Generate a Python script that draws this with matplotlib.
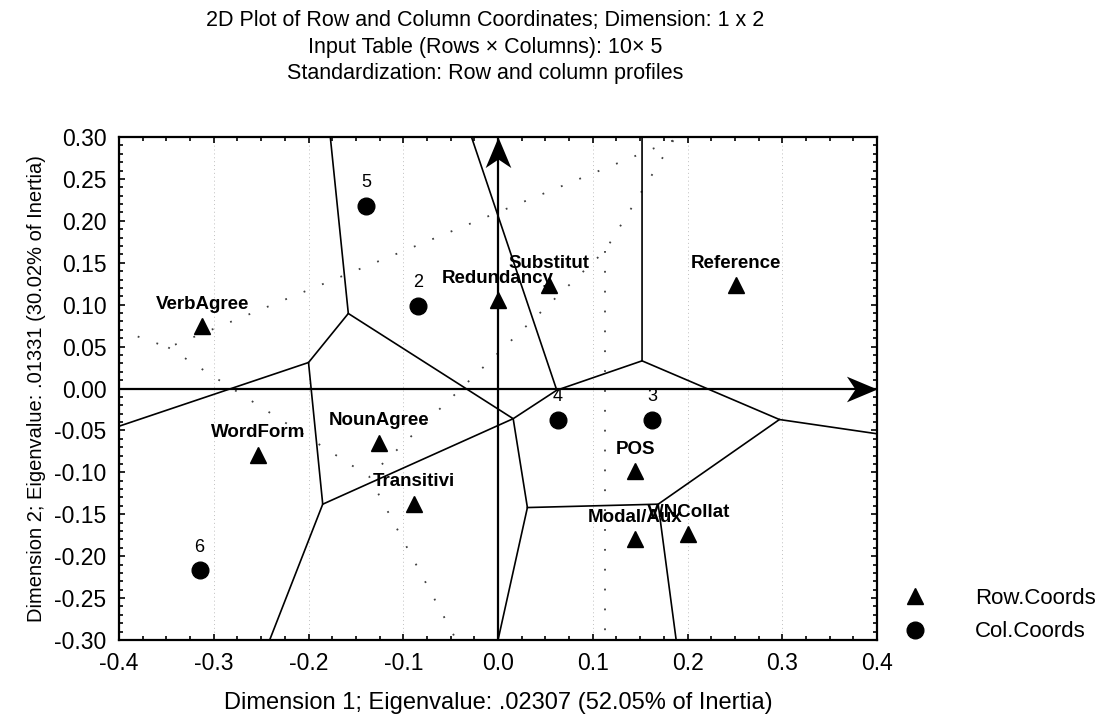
import numpy as np
import matplotlib
matplotlib.use('Agg')
import matplotlib.pyplot as plt
from matplotlib.ticker import MultipleLocator, FormatStrFormatter

plt.rcParams['font.family'] = ['Liberation Sans', 'DejaVu Sans']
plt.rcParams['axes.unicode_minus'] = False

# row coordinates (triangles)
row_labels = ['VerbAgree', 'WordForm', 'NounAgree', 'Transitivi', 'Redundancy',
              'Substitut', 'Reference', 'POS', 'Modal/Aux', 'V/NCollat']
row_x = [-0.312, -0.253, -0.126, -0.089, 0.000, 0.054, 0.251, 0.145, 0.145, 0.201]
row_y = [0.074, -0.079, -0.065, -0.138, 0.105, 0.123, 0.123, -0.099, -0.180, -0.174]

# column coordinates (circles)
col_labels = ['2', '3', '4', '5', '6']
col_x = [-0.084, 0.163, 0.063, -0.139, -0.315]
col_y = [0.099, -0.037, -0.037, 0.218, -0.217]

# cell boundaries around the row points (solid)
solid_x = [[-0.177, -0.158, -0.200, -0.400], [-0.200, -0.185, -0.241],
           [-0.185, 0.016, -0.158], [-0.028, 0.062, 0.016, 0.031, 0.000],
           [0.062, 0.152, 0.152], [0.152, 0.297, 0.400],
           [0.297, 0.169, 0.188], [0.169, 0.031]]
solid_y = [[0.30, 0.0895, 0.031, -0.045], [0.031, -0.138, -0.30],
           [-0.138, -0.036, 0.0895], [0.30, -0.002, -0.036, -0.142, -0.30],
           [-0.002, 0.033, 0.30], [0.033, -0.037, -0.054],
           [-0.037, -0.138, -0.30], [-0.138, -0.142]]

# cell boundaries around the column points (dotted)
dot_x = [[-0.400, -0.348, 0.185, 0.189], [-0.348, -0.136, -0.044],
         [0.185, 0.113, -0.136], [0.113, 0.113]]
dot_y = [[0.070, 0.049, 0.296, 0.30], [0.049, -0.105, -0.30],
         [0.296, 0.1645, -0.105], [0.1645, -0.30]]

fig = plt.figure(figsize=(11.05, 7.17), dpi=100)
ax = fig.add_axes([0.1077, 0.1074, 0.686, 0.7015])
ax.set_xlim(-0.4, 0.4)
ax.set_ylim(-0.3, 0.3)

# faint vertical grid
for gx in np.arange(-0.3, 0.31, 0.1):
    ax.axvline(gx, color='0.75', lw=0.7, ls=(0, (1, 3)), zorder=0)

for xs, ys in zip(dot_x, dot_y):
    ax.plot(xs, ys, color='0.25', lw=1.3, ls=(0, (1, 10)), zorder=1)
for xs, ys in zip(solid_x, solid_y):
    ax.plot(xs, ys, color='black', lw=1.2, zorder=2)

# axis lines with arrow heads
ax.plot([-0.4, 0.4], [0, 0], color='black', lw=1.6, zorder=2)
ax.plot([0, 0], [-0.3, 0.3], color='black', lw=1.6, zorder=2)
head_r = [(0, 0), (-1, 0.42), (-0.72, 0), (-1, -0.42), (0, 0)]
head_u = [(0, 0), (0.42, -1), (0, -0.72), (-0.42, -1), (0, 0)]
ax.plot([0.4], [0], marker=head_r, ms=44, color='black', mew=0, clip_on=False, zorder=3)
ax.plot([0], [0.3], marker=head_u, ms=44, color='black', mew=0, clip_on=False, zorder=3)

ax.plot(row_x, row_y, ls='none', marker='^', ms=11, color='black', label='Row.Coords', zorder=4)
ax.plot(col_x, col_y, ls='none', marker='o', ms=12, color='black', label='Col.Coords', zorder=4)

for lab, x, y in zip(row_labels, row_x, row_y):
    ax.annotate(lab, (x, y), xytext=(0, 16), textcoords='offset points',
                ha='center', va='center', fontsize=13.5, fontweight='bold', zorder=5)
for lab, x, y in zip(col_labels, col_x, col_y):
    ax.annotate(lab, (x, y), xytext=(0, 16.5), textcoords='offset points',
                ha='center', va='center', fontsize=13, zorder=5)

ax.xaxis.set_major_locator(MultipleLocator(0.1))
ax.xaxis.set_minor_locator(MultipleLocator(0.025))
ax.yaxis.set_major_locator(MultipleLocator(0.05))
ax.yaxis.set_minor_locator(MultipleLocator(0.01))
ax.xaxis.set_major_formatter(FormatStrFormatter('%.1f'))
ax.yaxis.set_major_formatter(FormatStrFormatter('%.2f'))
ax.tick_params(which='both', direction='in', top=True, right=True, width=1.2)
ax.tick_params(which='major', length=4, labelsize=16.5, pad=9)
ax.tick_params(which='minor', length=3)
for s in ax.spines.values():
    s.set_linewidth(1.6)

ax.set_xlabel('Dimension 1; Eigenvalue: .02307 (52.05% of Inertia)', fontsize=17, labelpad=12)
ax.set_ylabel('Dimension 2; Eigenvalue: .01331 (30.02% of Inertia)', fontsize=14.5, labelpad=6)

fig.text(0.439, 0.972, '2D Plot of Row and Column Coordinates; Dimension: 1 x 2',
         ha='center', va='center', fontsize=15.5)
fig.text(0.439, 0.934, 'Input Table (Rows \u00d7 Columns): 10\u00d7 5',
         ha='center', va='center', fontsize=15.5)
fig.text(0.439, 0.898, 'Standardization: Row and column profiles',
         ha='center', va='center', fontsize=15.5)

fig.legend(loc='center left', bbox_to_anchor=(0.8, 0.142), frameon=False,
           fontsize=16, handlelength=1, handletextpad=2.2, labelspacing=0.55)

fig.savefig('out.png', dpi=100)
